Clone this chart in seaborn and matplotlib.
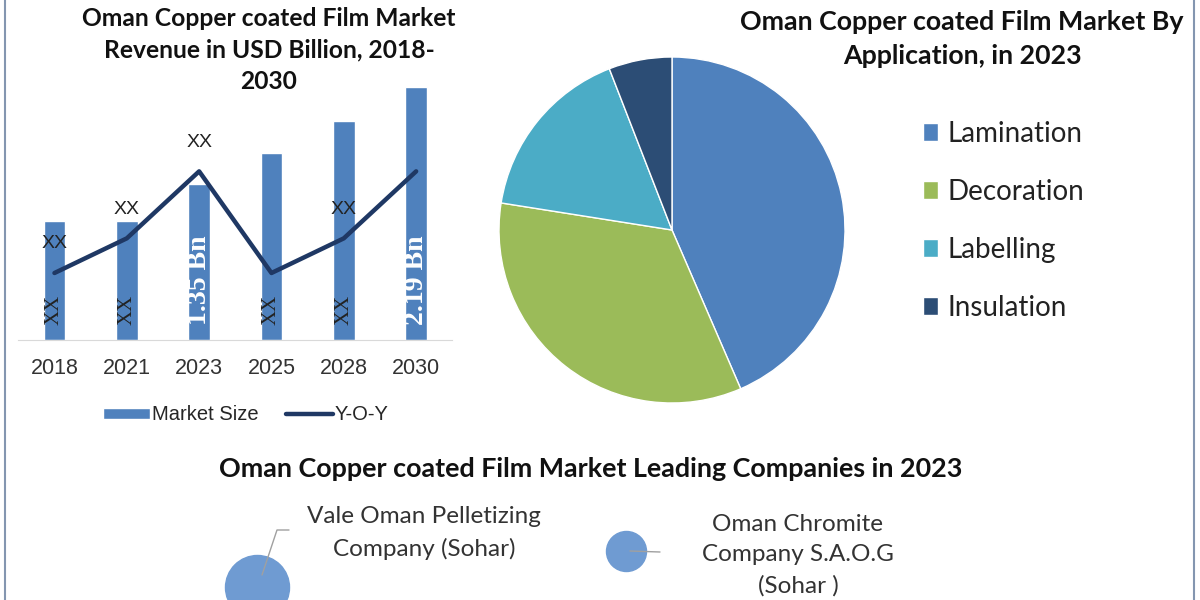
import numpy as np
import matplotlib.pyplot as plt
from matplotlib.patches import Patch
from matplotlib.lines import Line2D
import seaborn as sns

sns.set_style("white")
plt.rcParams['font.family'] = ['Liberation Sans', 'DejaVu Sans']

# revenue chart
years = ["2018", "2021", "2023", "2025", "2028", "2030"]
market_size = [1.03, 1.03, 1.35, 1.62, 1.90, 2.19]
yoy = [0.58, 0.88, 1.46, 0.58, 0.88, 1.46]
bar_labels = ["XX", "XX", "1.35 Bn", "XX", "XX", "2.19 Bn"]
yoy_labels = ["XX", "XX", "XX", "", "XX", ""]

# application pie
applications = ["Lamination", "Decoration", "Labelling", "Insulation"]
app_share = [43.5, 34.0, 16.6, 5.9]
app_colors = ["#4f81bd", "#9bbb59", "#4bacc6", "#2c4d75"]

# leading companies
companies = ["Vale Oman Pelletizing\nCompany (Sohar)",
             "Oman Chromite\nCompany S.A.O.G\n(Sohar )"]
company_weight = [2.56, 1.0]

bar_color = "#4f81bd"
line_color = "#1f3864"
title_font = ['Lato', 'DejaVu Sans']
W, H = 1200, 600

fig = plt.figure(figsize=(12, 6), dpi=100)
fig.patch.set_facecolor("white")

# ---- bar + line chart ----
ax = fig.add_axes([18.3 / W, 1 - 340 / H, 434 / W, 253 / H])
sns.barplot(x=years, y=market_size, color=bar_color, width=0.3, saturation=1, ax=ax, zorder=2)
sns.lineplot(x=np.arange(len(years)), y=yoy, color=line_color, linewidth=3.2, ax=ax, zorder=3)
ax.set_xlim(-0.5, len(years) - 0.5)
ax.set_ylim(0, max(market_size))
ax.set_yticks([])
ax.set_xlabel("")
ax.set_ylabel("")
for s in ["top", "left", "right"]:
    ax.spines[s].set_visible(False)
ax.spines["bottom"].set_color("#d9d9d9")
ax.tick_params(axis="x", length=0, pad=13, labelsize=15.5, labelcolor="#333333")

for i, lab in enumerate(bar_labels):
    white = "Bn" in lab
    ax.annotate(lab, (i, 0), xytext=(0, 11), textcoords="offset points",
                rotation=90, ha="center", va="bottom", clip_on=False,
                family=['Liberation Serif'], fontsize=20 if white else 15,
                fontweight="bold" if white else "normal",
                color="white" if white else "#222222", zorder=4)
for i, lab in enumerate(yoy_labels):
    if lab:
        ax.annotate(lab, (i, yoy[i]), xytext=(0, 21), textcoords="offset points",
                    ha="center", va="center", fontsize=14, color="#222222", zorder=4)

handles = [Patch(facecolor=bar_color), Line2D([], [], color=line_color, linewidth=3.2)]
ax.legend(handles, ["Market Size", "Y-O-Y"], loc="center", ncol=2,
          bbox_to_anchor=(246 / W, 1 - 415 / H), bbox_transform=fig.transFigure,
          frameon=False, fontsize=14.5, handlelength=2.3, handleheight=0.5,
          handletextpad=0.1, columnspacing=1.4)

fig.text(269 / W, 1 - 50 / H,
         "Oman Copper coated Film Market\nRevenue in USD Billion, 2018-\n2030",
         ha="center", va="center", fontsize=17.7, fontweight="bold",
         family=title_font, linespacing=1.45, color="#111111")

# ---- pie ----
axp = fig.add_axes([(672 - 173) / W, (600 - 403) / H, 346 / W, 346 / H])
axp.pie(app_share, colors=app_colors, startangle=90, counterclock=False,
        radius=1, wedgeprops=dict(edgecolor="white", linewidth=1))
axp.set_xlim(-1, 1)
axp.set_ylim(-1, 1)
axp.set_aspect("equal")

fig.text(962 / W, 1 - 39.5 / H, "Oman Copper coated Film Market By\nApplication, in 2023",
         ha="center", va="center", fontsize=19.3, fontweight="bold",
         family=title_font, linespacing=1.5, color="#111111")

pie_handles = [Patch(facecolor=c) for c in app_colors]
fig.legend(pie_handles, applications, loc="upper left",
           bbox_to_anchor=(898 / W, 1 - 96 / H), frameon=False,
           prop=dict(family=title_font, size=20), handlelength=0.55,
           handleheight=0.6, handletextpad=0.35, labelspacing=1.15,
           labelcolor="#222222")

# ---- leading companies ----
fig.text(591 / W, 1 - 469 / H, "Oman Copper coated Film Market Leading Companies in 2023",
         ha="center", va="center", fontsize=19.4, fontweight="bold",
         family=title_font, color="#111111")

axb = fig.add_axes([0, 0, 1, 1], zorder=-1)
axb.set_xlim(0, W)
axb.set_ylim(H, 0)
axb.axis("off")
bubble_xy = [(257, 587), (626, 551)]
label_xy = [(424, 533), (798, 555)]
leaders = [[(262, 575), (277, 530), (289, 530)], [(630, 551), (660, 552)]]
for k, name in enumerate(companies):
    axb.scatter(*bubble_xy[k], s=830 * company_weight[k], color="#6f9bd2", zorder=2)
    lx, ly = zip(*leaders[k])
    axb.plot(lx, ly, color="#a0a0a0", linewidth=1, zorder=3)
    axb.text(*label_xy[k], name, ha="center", va="center", fontsize=17.5,
             family=title_font, color="#333333", linespacing=1.55)

# border lines
axb.axvline(5, color="#8496b0", linewidth=1.5)
axb.axvline(1194, color="#8496b0", linewidth=1.5)

fig.savefig("out.png", dpi=100, facecolor="white")
